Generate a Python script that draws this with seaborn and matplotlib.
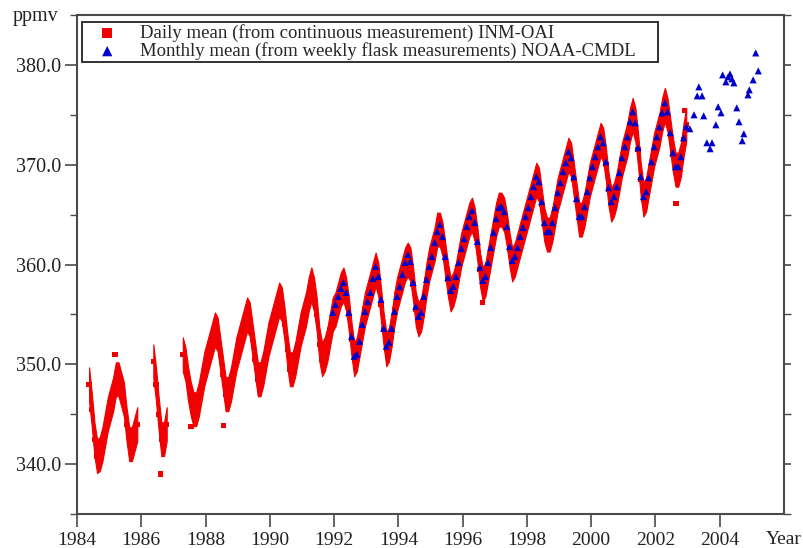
import numpy as np
import pandas as pd
import matplotlib
matplotlib.use("Agg")
import matplotlib.pyplot as plt
import seaborn as sns
from matplotlib.ticker import MultipleLocator, FormatStrFormatter

sns.set_theme(style="white")
plt.rcParams["font.family"] = ["Liberation Serif", "DejaVu Serif"]

# ---------------- data ----------------
# Daily-mean band (INM-OAI): monthly centre values of the band, per segment
red_seg1_start = (1984, 5)
red_seg1 = [348.0, 345.5, 342.5, 340.8, 341.0, 342.0, 343.5, 345.0,
            346.0, 347.0, 348.5, 348.5, 347.5, 346.5, 344.0, 342.0, 342.0, 343.0, 344.0]
red_seg2_start = (1986, 5)
red_seg2 = [350.3, 348.0, 345.0, 342.5, 342.5, 344.0]
red_seg3_start = (1987, 4)
red_seg3 = [
    351.0, 350.0, 348.0, 346.5, 345.5, 345.5, 346.5, 348.0, 349.5,
    350.5, 351.5, 352.5, 353.5, 353.0, 351.0, 349.0, 347.0, 347.0, 348.0, 349.5, 351.0,
    352.0, 353.0, 354.0, 355.0, 354.5, 352.5, 350.5, 348.5, 348.5, 349.5, 351.0, 352.5,
    353.5, 354.5, 355.5, 356.5, 356.0, 354.0, 351.5, 349.5, 349.5, 350.5, 352.0, 353.5,
    354.5, 355.5, 357.0, 358.0, 357.0, 355.0, 352.0, 350.5, 351.0, 352.0, 353.5, 355.0,
    355.5, 356.5, 357.5, 358.0, 357.0, 355.0, 352.5, 350.5, 351.0, 352.5, 354.0, 355.5,
    356.5, 357.5, 358.5, 359.5, 358.5, 356.0, 353.5, 351.5, 352.0, 353.5, 355.5, 357.0,
    358.0, 359.0, 360.0, 360.5, 360.0, 358.0, 355.5, 354.5, 355.0, 356.5, 358.5, 360.0,
    361.0, 362.0, 363.5, 363.5, 362.5, 360.5, 358.5, 357.0, 357.5, 358.5, 360.0, 361.5,
    362.5, 363.5, 364.5, 365.0, 364.0, 362.0, 359.5, 358.0, 358.5, 360.0, 361.5, 363.0,
    364.5, 365.5, 365.5, 365.0, 363.5, 361.5, 360.0, 360.5, 361.5, 362.5, 363.5, 364.5,
    365.5, 366.5, 367.5, 368.5, 368.0, 366.0, 364.0, 363.0, 363.0, 364.0, 365.5, 367.0,
    368.0, 369.0, 370.0, 371.0, 370.5, 368.5, 366.5, 364.5, 364.5, 365.5, 367.0, 368.5,
    369.5, 370.5, 371.5, 372.5, 372.0, 370.0, 367.5, 366.0, 366.5, 367.5, 369.0, 370.5,
    371.5, 372.5, 374.0, 375.0, 374.0, 371.5, 368.5, 366.5, 367.0, 368.5, 370.0, 371.5,
    372.5, 373.5, 375.0, 376.0, 375.0, 373.0, 371.0, 369.5, 369.5, 370.5, 372.5, 374.0,
]
# isolated daily values lying outside the band
red_stray_t = [1985.18, 1986.60, 1987.55, 1988.55, 1996.63, 2002.64, 2002.90]
red_stray_v = [351.0, 339.0, 343.8, 343.9, 356.2, 366.1, 375.4]

# Monthly mean (NOAA-CMDL flask), Dec 1991 - Dec 2002
blue_start = (1991, 12)
blue_monthly = [
    355.2,
    356.0, 356.8, 357.6, 358.2, 357.2, 355.2, 352.8, 350.8, 351.0, 352.3, 354.0, 355.3,
    356.3, 357.2, 358.6, 359.8, 358.8, 356.5, 353.6, 351.8, 352.2, 353.6, 355.3, 356.8,
    357.8, 359.0, 360.2, 361.0, 360.3, 358.2, 355.8, 354.8, 355.2, 356.8, 358.5, 359.8,
    360.8, 362.2, 363.3, 364.0, 362.8, 360.8, 358.7, 357.4, 357.8, 358.8, 360.2, 361.6,
    362.6, 363.8, 364.8, 365.4, 364.2, 362.3, 359.7, 358.4, 358.8, 360.2, 361.7, 363.2,
    364.6, 365.7, 365.8, 365.3, 363.8, 361.8, 360.4, 360.8, 361.7, 362.8, 363.7, 364.8,
    365.7, 366.8, 367.8, 368.8, 368.3, 366.3, 364.2, 363.3, 363.3, 364.2, 365.7, 367.2,
    368.2, 369.3, 370.2, 371.3, 370.7, 368.8, 366.6, 364.8, 364.8, 365.8, 367.3, 368.7,
    369.8, 370.8, 371.8, 372.8, 372.2, 370.3, 367.7, 366.3, 366.8, 367.8, 369.2, 370.7,
    371.8, 372.8, 374.3, 375.3, 374.2, 371.7, 368.8, 366.8, 367.3, 368.7, 370.3, 371.8,
    372.8, 373.8, 375.2, 376.2, 375.3, 373.2, 371.2, 369.8, 369.8, 370.8, 372.7, 373.8,
]
# NOAA-CMDL points after the INM-OAI record ends
blue_late_t = [2003.07, 2003.20, 2003.30, 2003.35, 2003.45, 2003.50, 2003.60, 2003.70,
               2003.76, 2003.88, 2003.95, 2004.04, 2004.09, 2004.19, 2004.26, 2004.32,
               2004.38, 2004.44, 2004.53, 2004.60, 2004.70, 2004.75, 2004.88, 2004.92,
               2005.04, 2005.12, 2005.20]
blue_late_v = [373.6, 375.0, 376.9, 377.8, 376.9, 374.9, 372.2, 371.6,
               372.2, 374.0, 375.8, 375.2, 379.0, 378.3, 378.8, 379.1,
               378.6, 378.2, 375.7, 374.3, 372.4, 373.1, 377.0, 377.5,
               378.5, 381.2, 379.4]

x_ticks = list(range(1984, 2005, 2))
label_red = "Daily mean (from continuous measurement) INM-OAI"
label_blue = "Monthly mean (from weekly flask measurements) NOAA-CMDL"

# ---------------- helpers ----------------
def month_times(start, n):
    y, m = start
    return y + (m - 0.5) / 12.0 + np.arange(n) / 12.0

red_segments = [(red_seg1_start, red_seg1), (red_seg2_start, red_seg2), (red_seg3_start, red_seg3)]

red_frames = []
for st, vals in red_segments:
    red_frames.append(pd.DataFrame({"year": month_times(st, len(vals)), "co2": vals}))
red_df = pd.concat(red_frames + [pd.DataFrame({"year": red_stray_t, "co2": red_stray_v})],
                   ignore_index=True)

blue_df = pd.concat([
    pd.DataFrame({"year": month_times(blue_start, len(blue_monthly)), "co2": blue_monthly}),
    pd.DataFrame({"year": blue_late_t, "co2": blue_late_v}),
], ignore_index=True)

# ---------------- figure ----------------
fig = plt.figure(figsize=(8.04, 5.48), dpi=100)
ax = fig.add_axes([77 / 804, 1 - 514 / 548, (784 - 77) / 804, (514 - 15) / 548])

RED = "#f00000"
BLUE = "#0000cc"
half_band = 1.7
for st, vals in red_segments:
    t = month_times(st, len(vals))
    v = np.array(vals)
    ax.fill_between(t, v - half_band, v + half_band, color=RED, lw=0.8, edgecolor=RED, zorder=2)

sns.scatterplot(data=red_df, x="year", y="co2", marker="s", s=14, color=RED,
                edgecolor="none", ax=ax, zorder=3, label=label_red)
sns.scatterplot(data=blue_df, x="year", y="co2", marker="^", s=26, color=BLUE,
                edgecolor="none", ax=ax, zorder=4, label=label_blue)

ax.set_xlim(1984, 2006)
ax.set_ylim(335, 385)
ax.set_xticks(x_ticks)
ax.set_xticklabels([str(x) for x in x_ticks])
ax.yaxis.set_major_locator(MultipleLocator(10))
ax.yaxis.set_minor_locator(MultipleLocator(5))
ax.yaxis.set_major_formatter(FormatStrFormatter("%.1f"))
ax.set_xlabel("")
ax.set_ylabel("")

spine_col = "#4a4a4a"
for s in ax.spines.values():
    s.set_color(spine_col)
    s.set_linewidth(1.5)

ax.tick_params(axis="x", which="major", direction="out", length=9, width=1.2,
               color=spine_col, bottom=True, top=False, labelsize=14, pad=4, labelcolor="#222222")
ax.tick_params(axis="y", which="major", direction="out", length=9, width=1.2,
               color=spine_col, left=True, right=True, labelsize=14.5, pad=2.5, labelcolor="#222222")
ax.tick_params(axis="y", which="minor", direction="out", length=5, width=1.0,
               color=spine_col, left=True, right=True)
# right-hand ticks are all short in the reference
fig.canvas.draw()
for tk in ax.yaxis.get_major_ticks():
    tk.tick2line.set_markersize(5)

fig.text(36 / 804, 1 - 17 / 548, "ppmv", ha="center", va="center", fontsize=14.5, color="#222222")
fig.text(784 / 804, 1 - 539 / 548, "Year", ha="center", va="center", fontsize=14, color="#222222")

leg = ax.legend(loc="upper left",
                bbox_to_anchor=((82 - 77) / 707, (514 - 22) / 499, (658 - 82) / 707, 0.0),
                mode="expand", borderaxespad=0, frameon=True, fancybox=False,
                fontsize=13.5, handlelength=2.45, handletextpad=0.5, borderpad=0.12,
                labelspacing=0.0)
leg.get_frame().set_edgecolor("#222222")
leg.get_frame().set_linewidth(1.3)
leg.get_frame().set_alpha(1)
hs = leg.legend_handles
hs[0].set_sizes([50])
hs[1].set_sizes([55])

fig.savefig("out.png", dpi=100)
